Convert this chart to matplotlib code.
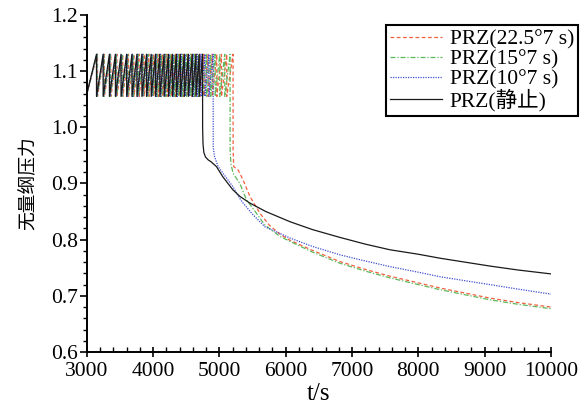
import numpy as np
import matplotlib
matplotlib.use("Agg")
import matplotlib.pyplot as plt
from matplotlib.ticker import MultipleLocator

plt.rcParams['font.family'] = ['Liberation Serif', 'Noto Sans CJK SC']
plt.rcParams['mathtext.fontset'] = 'stix'

# ---------------- data ----------------
labels = ["PRZ(22.5°7 s)", "PRZ(15°7 s)", "PRZ(10°7 s)", "PRZ(静止)"]

osc_start = 1.06
osc_low = 1.055
osc_high = 1.13

# peak times of the pressurizer oscillation (last one = final drop)
peaks_red = [3160, 3263, 3362, 3454, 3542, 3628, 3710, 3788, 3864, 3936, 4007, 4075,
             4142, 4208, 4273, 4337, 4400, 4462, 4524, 4585, 4646, 4706, 4766, 4828,
             4892, 4960, 5030, 5110, 5205]
peaks_green = [3155, 3258, 3355, 3446, 3533, 3618, 3700, 3776, 3851, 3922, 3993, 4060,
               4126, 4191, 4256, 4319, 4381, 4442, 4503, 4564, 4624, 4684, 4744, 4805,
               4868, 4935, 5005, 5080, 5160]
peaks_blue = [3150, 3252, 3348, 3438, 3524, 3608, 3689, 3765, 3840, 3910, 3980, 4046,
              4112, 4176, 4240, 4302, 4363, 4424, 4484, 4544, 4604, 4663, 4722, 4781,
              4842, 4905]
peaks_black = [3145, 3245, 3340, 3430, 3515, 3600, 3680, 3755, 3830, 3900, 3970, 4035,
               4100, 4165, 4230, 4290, 4350, 4410, 4470, 4530, 4590, 4645, 4695, 4745]

# decay after the final drop
t_red = [5206, 5215, 5282, 5357, 5460, 5610, 5750, 5910, 6062, 6400, 6816, 7200, 7570,
         8000, 8324, 8700, 9078, 9500, 10000]
v_red = [0.960, 0.930, 0.924, 0.906, 0.877, 0.847, 0.826, 0.810, 0.799, 0.781, 0.761,
         0.747, 0.735, 0.723, 0.714, 0.705, 0.696, 0.688, 0.680]

t_green = [5161, 5172, 5205, 5307, 5407, 5558, 5685, 5910, 6062, 6400, 6816, 7200, 7570,
           8000, 8324, 8700, 9078, 9500, 10000]
v_green = [0.960, 0.936, 0.918, 0.900, 0.871, 0.847, 0.826, 0.806, 0.797, 0.778, 0.758,
           0.744, 0.732, 0.720, 0.711, 0.702, 0.693, 0.685, 0.677]

t_blue = [4906, 4925, 4980, 5055, 5205, 5308, 5357, 5500, 5685, 6062, 6400, 6816, 7200,
          7570, 8000, 8324, 8700, 9078, 9500, 10000]
v_blue = [0.965, 0.948, 0.930, 0.918, 0.894, 0.873, 0.865, 0.845, 0.823, 0.803, 0.788,
          0.773, 0.762, 0.752, 0.742, 0.734, 0.727, 0.720, 0.712, 0.703]

t_black = [4746, 4752, 4765, 4790, 4830, 4880, 4955, 5050, 5200, 5308, 5460, 5700, 6062,
           6400, 6816, 7200, 7570, 8000, 8324, 8700, 9078, 9500, 10000]
v_black = [1.000, 0.970, 0.955, 0.947, 0.942, 0.938, 0.930, 0.912, 0.889, 0.877, 0.865,
           0.850, 0.832, 0.818, 0.804, 0.792, 0.782, 0.774, 0.767, 0.760, 0.753, 0.746,
           0.739]


def build(peaks, td, vd):
    t = [3000]
    v = [osc_start]
    for i, p in enumerate(peaks):
        t.append(p)
        v.append(osc_high)
        if i < len(peaks) - 1:
            t.append(p + 0.5)
            v.append(osc_low)
    return t + list(td), v + list(vd)


series = [
    (build(peaks_red, t_red, v_red), dict(color='#f2603e', ls=(0, (3, 2)), lw=0.9)),
    (build(peaks_green, t_green, v_green), dict(color='#5cb85a', ls=(0, (4, 1.5, 1, 1.5)), lw=0.9)),
    (build(peaks_blue, t_blue, v_blue), dict(color='#3f4fd0', ls=(0, (1, 1)), lw=0.9)),
    (build(peaks_black, t_black, v_black), dict(color='#1a1a1a', ls='-', lw=0.9)),
]

fig = plt.figure(figsize=(5.83, 4.11), dpi=100)
ax = fig.add_axes([0.149, 0.1436, 0.796, 0.82])

for (data, style), lab in zip(series, labels):
    ax.plot(data[0], data[1], label=lab, **style)

ax.set_xlim(3000, 10000)
ax.set_ylim(0.6, 1.2)
ax.xaxis.set_major_locator(MultipleLocator(1000))
ax.xaxis.set_minor_locator(MultipleLocator(200))
ax.yaxis.set_major_locator(MultipleLocator(0.1))
ax.yaxis.set_minor_locator(MultipleLocator(0.02))
ax.yaxis.set_major_formatter(plt.FuncFormatter(lambda x, p: f"{x:.1f}"))

for s in ['top', 'right']:
    ax.spines[s].set_visible(False)
for s in ['left', 'bottom']:
    ax.spines[s].set_linewidth(1.4)

ax.tick_params(axis='x', which='major', direction='inout', length=7, width=1.2, labelsize=15.5, pad=3.5)
ax.tick_params(axis='x', which='minor', direction='in', length=3.5, width=1.0)
ax.tick_params(axis='y', which='major', direction='out', length=5, width=1.2, labelsize=15.5, pad=1.5)
ax.tick_params(axis='y', which='minor', direction='out', length=3, width=1.0)

ax.set_xlabel('t/s', fontsize=18, labelpad=2)
ax.set_ylabel('无量纲压力', fontsize=13.5, labelpad=10,
              family=['Noto Sans CJK SC', 'DejaVu Sans'])

leg = fig.legend(loc='upper right', bbox_to_anchor=(0.992, 0.94), fontsize=15.5,
                 frameon=True, fancybox=False, edgecolor='black', framealpha=1,
                 handlelength=2.4, handletextpad=0.35, labelspacing=0.0,
                 borderpad=0.2, borderaxespad=0)
leg.get_frame().set_linewidth(1.5)

fig.savefig('out.png', dpi=100)
